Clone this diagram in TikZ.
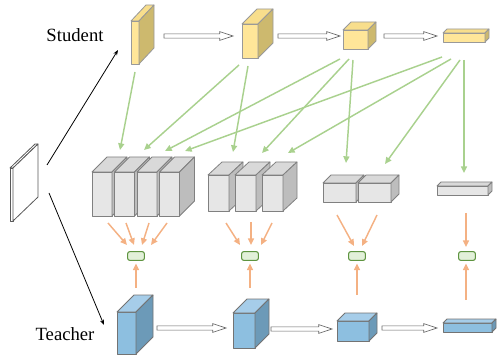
\documentclass[tikz,border=0pt]{standalone}
\usepackage{fontspec}
\setmainfont{Liberation Serif}
\usetikzlibrary{arrows.meta,calc}
\definecolor{yfr}{HTML}{FFE699}
\definecolor{ytp}{HTML}{F8DE8C}
\definecolor{ysd}{HTML}{CDB96E}
\definecolor{bfr}{HTML}{8DBFE0}
\definecolor{btp}{HTML}{A6CDE9}
\definecolor{bsd}{HTML}{6C9AB8}
\definecolor{gfr}{HTML}{E6E6E6}
\definecolor{gtp}{HTML}{D9D9D9}
\definecolor{gsd}{HTML}{BDBDBD}
\definecolor{grn}{HTML}{A9D18E}
\definecolor{org}{HTML}{F4B183}
\definecolor{rfill}{HTML}{E2F0D9}
\definecolor{rdraw}{HTML}{5E9440}
\tikzset{
  yfront/.style={fill=yfr,draw=black!40,line width=0.6pt,line join=round},
  ytop/.style={fill=ytp,draw=black!40,line width=0.6pt,line join=round},
  yside/.style={fill=ysd,draw=black!40,line width=0.6pt,line join=round},
  bfront/.style={fill=bfr,draw=black!55,line width=0.6pt,line join=round},
  btop/.style={fill=btp,draw=black!55,line width=0.6pt,line join=round},
  bside/.style={fill=bsd,draw=black!55,line width=0.6pt,line join=round},
  gfront/.style={fill=gfr,draw=black!50,line width=0.6pt,line join=round},
  gtop/.style={fill=gtp,draw=black!50,line width=0.6pt,line join=round},
  gside/.style={fill=gsd,draw=black!50,line width=0.6pt,line join=round},
  wfront/.style={fill=white,draw=black!65,line width=0.6pt,line join=round},
  wtop/.style={fill=white,draw=black!65,line width=0.6pt,line join=round},
  wside/.style={fill=white,draw=black!65,line width=0.6pt,line join=round},
  hollow/.style={fill=white,draw=black!60,line width=0.5pt,line join=miter},
  blk/.style={draw=black,line width=0.6pt,-{Stealth[length=4pt,width=3pt]}},
  garr/.style={draw=grn,line width=1.1pt,-{Triangle[length=5pt,width=4.5pt]}},
  oarr/.style={draw=org,line width=1.1pt,-{Triangle[length=5pt,width=4.5pt]}},
  rbox/.style={draw=rdraw,fill=rfill,line width=0.8pt,rounded corners=1.5pt,minimum width=12.5pt,minimum height=6.5pt,inner sep=0pt},
  lbl/.style={font=\fontsize{14}{16}\selectfont,inner sep=0pt}
}
% x, y (front top-left), w, h, dx, dy, colour prefix
\newcommand{\cuboid}[7]{%
  \filldraw[#7front] (#1,#2) rectangle ++(#3,#4);
  \filldraw[#7top] (#1,#2) -- ++(#5,-#6) -- ++(#3,0) -- ++(-#5,#6) -- cycle;
  \filldraw[#7side] (#1+#3,#2) -- ++(#5,-#6) -- ++(0,#4) -- ++(-#5,#6) -- cycle;
}
\newcommand{\harrow}[2]{%
  \draw[hollow] let \p1=(#1), \p2=(#2) in
    (\x1,\y1+1.6pt) -- (\x2-10pt,\y1+1.6pt) -- (\x2-10pt,\y1+3.3pt) -- (\x2,\y1)
    -- (\x2-10pt,\y1-3.3pt) -- (\x2-10pt,\y1-1.6pt) -- (\x1,\y1-1.6pt) -- cycle;
}
\begin{document}
\begin{tikzpicture}[x=0.75pt,y=-0.75pt]
\useasboundingbox (0,0) rectangle (497,360);
% input slab
\cuboid{10}{168}{3}{53}{25}{24}{w}
% student blocks
\cuboid{131}{21}{8}{43}{15}{16}{y}
\cuboid{242}{24}{16}{34}{15}{15}{y}
\cuboid{343}{30}{25}{19}{8}{8}{y}
\cuboid{443}{33}{42}{9}{4}{4}{y}
% teacher blocks
\cuboid{117}{312}{19}{42}{17}{17}{b}
\cuboid{233}{313}{22}{35}{14}{14}{b}
\cuboid{337}{321}{32}{20}{8}{8}{b}
\cuboid{443}{323}{49}{9}{4}{4}{b}
% gray groups
\cuboid{92}{172}{20}{44}{15}{15}{g}
\cuboid{114.5}{172}{20}{44}{15}{15}{g}
\cuboid{137}{172}{20}{44}{15}{15}{g}
\cuboid{159.5}{172}{20}{44}{15}{15}{g}
\cuboid{208}{175}{21}{36}{14}{13}{g}
\cuboid{235}{175}{21}{36}{14}{13}{g}
\cuboid{262}{175}{21}{36}{14}{13}{g}
\cuboid{323}{183}{33}{19}{8}{8}{g}
\cuboid{358}{183}{33}{19}{8}{8}{g}
\cuboid{437}{186}{51}{9}{4}{4}{g}
% labels
\node[lbl] (student) at (75,35) {Student};
\node[lbl] (teacher) at (65,334) {Teacher};
% input arrows
\coordinate (in0) at (47,165); \coordinate (sIn) at (118,50);
\coordinate (in1) at (49,193); \coordinate (tIn) at (104,325);
\draw[blk] (in0) -- (sIn);
\draw[blk] (in1) -- (tIn);
% hollow arrows
\coordinate (sa1) at (164,36); \coordinate (sb1) at (233,36);
\coordinate (sa2) at (278,36); \coordinate (sb2) at (340,36);
\coordinate (sa3) at (384,36); \coordinate (sb3) at (437,36);
\coordinate (ta1) at (157,328); \coordinate (tb1) at (226,328);
\coordinate (ta2) at (271,329); \coordinate (tb2) at (332,329);
\coordinate (ta3) at (382,328); \coordinate (tb3) at (437,328);
\harrow{sa1}{sb1}\harrow{sa2}{sb2}\harrow{sa3}{sb3}
\harrow{ta1}{tb1}\harrow{ta2}{tb2}\harrow{ta3}{tb3}
% green boxes
\node[rbox] (r1) at (136,256) {};
\node[rbox] (r2) at (250,256) {};
\node[rbox] (r3) at (357,256) {};
\node[rbox] (r4) at (467,256) {};
% green arrows
\coordinate (s1o) at (135,72);
\coordinate (s2o1) at (239,65); \coordinate (s2o2) at (248,66);
\coordinate (s3o1) at (340,59); \coordinate (s3o2) at (349,59); \coordinate (s3o3) at (353,60);
\coordinate (s4o1) at (442,57); \coordinate (s4o2) at (451,59); \coordinate (s4o3) at (460,60); \coordinate (s4o4) at (464,60);
\coordinate (g1a) at (120,150); \coordinate (g1b) at (144,150); \coordinate (g1c) at (165,151); \coordinate (g1d) at (185,151);
\coordinate (g2a) at (233,152); \coordinate (g2b) at (262,153); \coordinate (g2c) at (288,153);
\coordinate (g3a) at (346,163); \coordinate (g3b) at (385,164);
\coordinate (g4a) at (464,173);
\draw[garr] (s1o) -- (g1a);
\draw[garr] (s2o1) -- (g1b);
\draw[garr] (s3o1) -- (g1c);
\draw[garr] (s4o1) -- (g1d);
\draw[garr] (s2o2) -- (g2a);
\draw[garr] (s3o2) -- (g2b);
\draw[garr] (s4o2) -- (g2c);
\draw[garr] (s3o3) -- (g3a);
\draw[garr] (s4o3) -- (g3b);
\draw[garr] (s4o4) -- (g4a);
% orange arrows from gray groups
\coordinate (o1a) at (108,223); \coordinate (e1a) at (127,245);
\coordinate (o1b) at (126,223); \coordinate (e1b) at (134,245);
\coordinate (o1c) at (149,223); \coordinate (e1c) at (142,245);
\coordinate (o1d) at (167,223); \coordinate (e1d) at (151,245);
\coordinate (o2a) at (226,223); \coordinate (e2a) at (240,245);
\coordinate (o2b) at (251,222); \coordinate (e2b) at (251,245);
\coordinate (o2c) at (272,223); \coordinate (e2c) at (261,245);
\coordinate (o3a) at (337,215); \coordinate (e3a) at (354,246);
\coordinate (o3b) at (377,215); \coordinate (e3b) at (362,246);
\coordinate (o4a) at (466,213); \coordinate (e4a) at (466,247);
\foreach \a/\b in {o1a/e1a,o1b/e1b,o1c/e1c,o1d/e1d,o2a/e2a,o2b/e2b,o2c/e2c,o3a/e3a,o3b/e3b,o4a/e4a}
  \draw[oarr] (\a) -- (\b);
% orange arrows from teacher
\coordinate (t1u) at (136,288); \coordinate (t2u) at (250,288);
\coordinate (t3u) at (357,295); \coordinate (t4u) at (466,300);
\draw[oarr,shorten >=2pt] (t1u) -- (r1.south);
\draw[oarr,shorten >=2pt] (t2u) -- (r2.south);
\draw[oarr,shorten >=2pt] (t3u) -- (r3.south);
\draw[oarr,shorten >=2pt] (t4u) -- (r4.south -| t4u);
\end{tikzpicture}
\end{document}
